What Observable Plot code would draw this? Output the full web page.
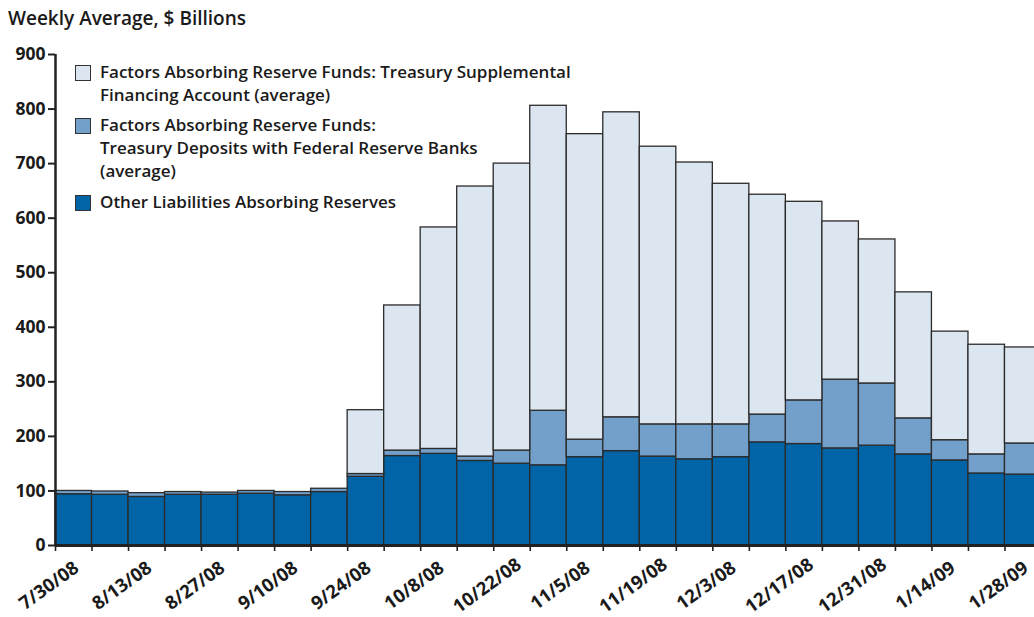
<!DOCTYPE html>
<html>
<head>
<meta charset="utf-8">
<script src="https://cdn.jsdelivr.net/npm/d3@7"></script>
<script src="https://cdn.jsdelivr.net/npm/@observablehq/plot@0.6"></script>
<style>
  html, body { margin: 0; padding: 0; background: #fff; overflow: hidden; }
  body { font-family: "Open Sans", Lato, sans-serif; color: #1a1a1a; position: relative; width: 1034px; height: 617px; }
  #title { position: absolute; left: 8px; top: 5px; font-size: 19px; font-weight: 600; }
  #chart { position: absolute; left: 0; top: 40px; }
  #legend { position: absolute; left: 75px; top: 61px; font-size: 17px; font-weight: 600; line-height: 22.7px; }
  .item { display: flex; align-items: flex-start; margin-bottom: 8px; }
  .sw { width: 14px; height: 14px; border: 1.6px solid #333; margin-top: 4px; margin-right: 9px; flex: none; }
</style>
</head>
<body>
<div id="title">Weekly Average, $ Billions</div>
<div id="chart"></div>
<div id="legend"></div>
<script>
// Week start dates (weekly bars)
const weeks = ["2008-07-30","2008-08-06","2008-08-13","2008-08-20","2008-08-27","2008-09-03","2008-09-10","2008-09-17","2008-09-24","2008-10-01","2008-10-08","2008-10-15","2008-10-22","2008-10-29","2008-11-05","2008-11-12","2008-11-19","2008-11-26","2008-12-03","2008-12-10","2008-12-17","2008-12-24","2008-12-31","2009-01-07","2009-01-14","2009-01-21","2009-01-28"];
// Other Liabilities Absorbing Reserves
const otherLiabilities = [94, 93, 89, 93, 93, 95, 92, 98, 126, 164, 168, 155, 150, 147, 162, 173, 163, 158, 162, 189, 186, 178, 183, 167, 156, 132, 130];
// Treasury Deposits with Federal Reserve Banks
const treasuryDeposits = [6, 6, 7, 5, 4, 5, 6, 6, 5, 10, 9, 8, 24, 100, 32, 62, 59, 64, 60, 51, 80, 126, 114, 66, 37, 35, 57];
// Treasury Supplemental Financing Account
const supplementalFinancing = [0, 0, 0, 0, 0, 0, 0, 0, 117, 266, 406, 495, 526, 559, 560, 559, 509, 480, 441, 403, 364, 290, 264, 231, 199, 201, 176];

const seriesNames = [
  "Other Liabilities Absorbing Reserves",
  "Factors Absorbing Reserve Funds: Treasury Deposits with Federal Reserve Banks (average)",
  "Factors Absorbing Reserve Funds: Treasury Supplemental Financing Account (average)"
];
const seriesColors = ["#0064a6", "#73a0cb", "#dce6f1"];
const legendLines = [
  ["Factors Absorbing Reserve Funds: Treasury Supplemental", "Financing Account (average)"],
  ["Factors Absorbing Reserve Funds:", "Treasury Deposits with Federal Reserve Banks", "(average)"],
  ["Other Liabilities Absorbing Reserves"]
];
const legendColors = ["#dce6f1", "#73a0cb", "#0064a6"];
const yTicks = [0, 100, 200, 300, 400, 500, 600, 700, 800, 900];
const xTickLabels = ["7/30/08","8/13/08","8/27/08","9/10/08","9/24/08","10/8/08","10/22/08","11/5/08","11/19/08","12/3/08","12/17/08","12/31/08","1/14/09","1/28/09"];

const parse = d3.utcParse("%Y-%m-%d");
const dates = weeks.map(parse);
const seriesValues = [otherLiabilities, treasuryDeposits, supplementalFinancing];
const rows = [];
seriesValues.forEach((vals, s) => {
  vals.forEach((v, i) => {
    rows.push({start: dates[i], end: d3.utcDay.offset(dates[i], 7), value: v, series: seriesNames[s]});
  });
});
const endDate = d3.utcDay.offset(dates[dates.length - 1], 7);
const labelDates = xTickLabels.map(s => { const [m, d, y] = s.split("/").map(Number); return new Date(Date.UTC(2000 + y, m - 1, d)); });
const labelMap = new Map(labelDates.map((d, i) => [+d, xTickLabels[i]]));
const allTicks = dates.concat([endDate]);

const chart = Plot.plot({
  width: 1034,
  height: 577,
  marginTop: 14,
  marginBottom: 72,
  marginLeft: 55,
  marginRight: 0,
  style: {fontFamily: "'Open Sans', sans-serif", overflow: "hidden"},
  x: {type: "utc", domain: [dates[0], endDate], range: [55, 1041]},
  y: {domain: [0, 900]},
  color: {domain: seriesNames, range: seriesColors},
  marks: [
    Plot.rectY(rows, Plot.stackY({
      x1: "start", x2: "end", y: "value", fill: "series", z: "series",
      order: seriesNames,
      stroke: "#2b2b2b", strokeWidth: 1.3
    })),
    Plot.axisX({ticks: allTicks, tickSize: 6, tickFormat: () => "", label: null, stroke: "#222", strokeWidth: 1.6}),
    Plot.text(labelDates, {
      x: d => d, text: d => labelMap.get(+d), frameAnchor: "bottom",
      dy: 45, dx: -3, rotate: -36, textAnchor: "middle",
      fontSize: 18.5, fontWeight: 700, fill: "#1a1a1a"
    }),
    Plot.ruleY([0], {stroke: "#222", strokeWidth: 3}),
    Plot.ruleX([dates[0]], {stroke: "#222", strokeWidth: 2.5}),
    Plot.axisY({ticks: yTicks, tickSize: 7, tickPadding: 3, fontSize: 17.5, fontWeight: 700, label: null, tickFormat: d => String(d), stroke: "#222", strokeWidth: 2, fill: "#1a1a1a"})
  ]
});
document.getElementById("chart").appendChild(chart);

const legend = document.getElementById("legend");
legendLines.forEach((lines, i) => {
  const item = document.createElement("div");
  item.className = "item";
  const sw = document.createElement("div");
  sw.className = "sw";
  sw.style.background = legendColors[i];
  const txt = document.createElement("div");
  txt.innerHTML = lines.join("<br>");
  item.appendChild(sw);
  item.appendChild(txt);
  legend.appendChild(item);
});
</script>
</body>
</html>
